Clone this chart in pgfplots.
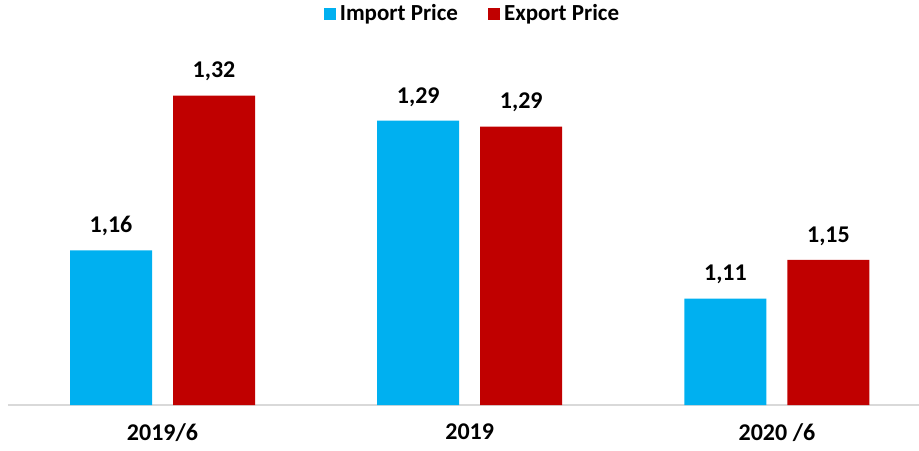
\documentclass[border=0pt]{standalone}
\usepackage{pgfplots}
\pgfplotsset{compat=1.18}
\usepackage{fontspec}
\setmainfont{Carlito}
\definecolor{impblue}{HTML}{00B0F0}
\definecolor{expred}{HTML}{C00000}
\definecolor{axisgray}{HTML}{D9D9D9}

\begin{document}
\begin{tikzpicture}
    \begin{axis}[
        scale only axis,
        width=455.5pt,
        height=182.5pt,
        ybar=10.5pt,
        bar width=41pt,
        xmin=-0.503, xmax=2.4625,
        ymin=1.0, ymax=1.3775,
        axis x line*=bottom,
        axis y line=none,
        x axis line style={draw=axisgray, line width=0.8pt, -},
        xtick=data,
        xticklabels={2019/6, 2019, 2020 /6},
        major tick length=0pt,
        xticklabel style={font=\bfseries\fontsize{12}{14}\selectfont, anchor=north, inner sep=0pt, yshift=-9pt},
        /pgf/number format/assume math mode=true,
        nodes near coords,
        nodes near coords style={font=\bfseries\fontsize{12}{14}\selectfont, anchor=south, inner sep=0pt, yshift=7pt,
            /pgf/number format/.cd, fixed, fixed zerofill, precision=2, use comma},
        legend columns=2,
        legend style={at={(0.511,1.071)}, anchor=center, draw=none, fill=none,
            font=\bfseries\fontsize{11.5}{13}\selectfont,
            /tikz/every even column/.append style={column sep=13pt}},
        legend image code/.code={\path[#1] (0pt,-3pt) rectangle (6pt,3pt);},
    ]
    % Import Price
    \addplot[fill=impblue, draw=none] coordinates {(0,1.16) (1,1.294) (2,1.11)};
    \addlegendentry{Import Price}
    % Export Price
    \addplot[fill=expred, draw=none] coordinates {(0,1.32) (1,1.288) (2,1.15)};
    \addlegendentry{Export Price}
    \end{axis}
    \pgfresetboundingbox
    \path (-4pt,-22.5pt) rectangle (455.5pt,202.5pt);
\end{tikzpicture}
\end{document}
